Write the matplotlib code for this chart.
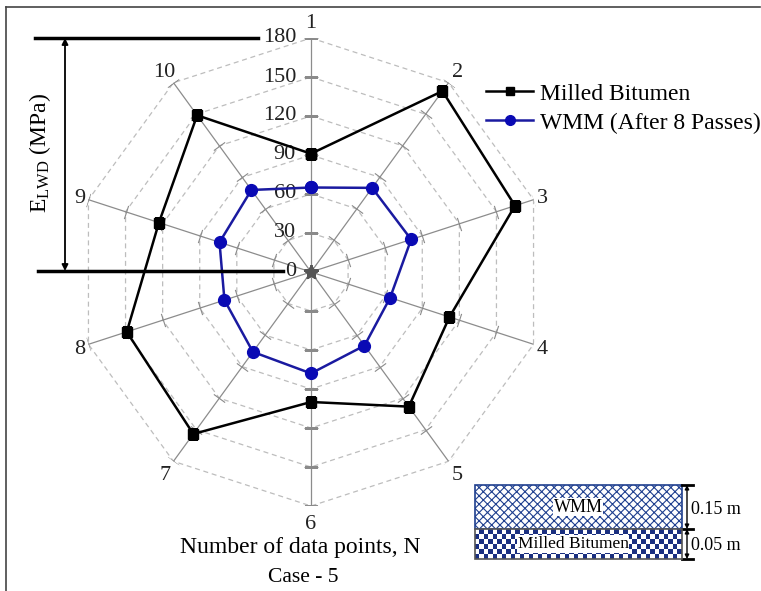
import numpy as np
import matplotlib
matplotlib.use("Agg")
import matplotlib.pyplot as plt
from matplotlib.lines import Line2D
from matplotlib.patches import Rectangle

plt.rcParams['font.family'] = ['Liberation Serif', 'DejaVu Serif']
plt.rcParams['mathtext.fontset'] = 'custom'
plt.rcParams['mathtext.rm'] = 'Liberation Serif'
plt.rcParams['hatch.linewidth'] = 0.8

# ---- data ----
points = ['1', '2', '3', '4', '5', '6', '7', '8', '9', '10']
milled_bitumen = [91, 172, 165, 112, 128, 100, 154, 149, 123, 149]
wmm_after_8 = [65, 80, 81, 64, 70, 78, 76, 70, 74, 78]
r_ticks = [0, 30, 60, 90, 120, 150, 180]
series_names = ['Milled Bitumen', 'WMM (After 8 Passes)']

W, H = 761, 591
fig = plt.figure(figsize=(W / 100, H / 100), dpi=100)

cx, cy, R = 311, 272, 234
px_per_unit = R / r_ticks[-1]
ax = fig.add_axes([(cx - R) / W, (H - cy - R) / H, 2 * R / W, 2 * R / H],
                  projection='polar')
ax.set_theta_zero_location('N')
ax.set_theta_direction(-1)
ax.set_ylim(0, r_ticks[-1])
ax.grid(False)
ax.spines['polar'].set_visible(False)
ax.set_xticks([])
ax.set_yticks([])
ax.patch.set_alpha(0)

n = len(points)
theta = np.arange(n) * 2 * np.pi / n
theta_c = np.append(theta, theta[0])

# decagon grid rings
for v in r_ticks[1:]:
    ax.plot(theta_c, [v] * (n + 1), color='#bdbdbd', lw=0.9, ls=(0, (4, 3)),
            zorder=1)
# spokes + ticks + category labels
for i, th in enumerate(theta):
    ax.plot([th, th], [0, r_ticks[-1]], color='#8c8c8c', lw=0.9, zorder=2)
    ang = 90 - np.degrees(th)
    ax.plot([th] * (len(r_ticks) - 1), r_ticks[1:], ls='none',
            marker=(2, 0, ang), ms=10, mec='#8a8a8a', mew=0.8, zorder=2)
    r_lab = (240 + 11 * abs(np.cos(th))) / px_per_unit
    ax.annotate(points[i], xy=(th, r_lab), xytext=(0, -2),
                textcoords='offset pixels', ha='center', va='center',
                fontsize=16, color='#222222', annotation_clip=False)

# radial tick labels along spoke 1
for v in r_ticks:
    ax.annotate(str(v), xy=(0, v), xytext=(-15, 0), textcoords='offset pixels',
                ha='right', va='center', fontsize=16, color='#222222',
                annotation_clip=False)

# series
ax.plot(theta_c, milled_bitumen + milled_bitumen[:1], color='black', lw=1.8,
        marker='s', ms=7.5, zorder=4)
ax.plot(theta_c, wmm_after_8 + wmm_after_8[:1], color='#1a1aa0', lw=1.8,
        marker='o', ms=8.5, mfc='#0a0ab4', mec='#0a0ab4', zorder=5)

# center star
ax.plot(theta, [0] * n, ls='none', marker='*', ms=10, color='#555555', zorder=3)

# ---- legend ----
handles = [Line2D([], [], color='black', lw=1.8, marker='s', ms=6),
           Line2D([], [], color='#1a1aa0', lw=1.8, marker='o', ms=7,
                  mfc='#0a0ab4', mec='#0a0ab4')]
fig.legend(handles, series_names, loc='upper left',
           bbox_to_anchor=(486 / W, 1 - 83 / H), frameon=False, fontsize=17,
           handlelength=2.0, handletextpad=0.3, labelspacing=0.32,
           borderaxespad=0, borderpad=0)

# ---- overlay (pixel coordinates) ----
ov = fig.add_axes([0, 0, 1, 1], facecolor='none')
ov.set_xlim(0, W)
ov.set_ylim(H, 0)
ov.axis('off')

# frame
ov.plot([6, 6], [H, 7], color='#444444', lw=1.2)
ov.plot([6, 760], [7, 7], color='#444444', lw=1.2)

# E_LWD dimension lines
ov.plot([35, 258], [38, 38], color='black', lw=2.5)
ov.plot([38, 283], [271, 271], color='black', lw=2.5)
ov.annotate('', xy=(65, 38), xytext=(65, 271),
            arrowprops=dict(arrowstyle='<|-|>', color='black', lw=1.3,
                            mutation_scale=9, shrinkA=0, shrinkB=0))
ov.text(40, 153, r'$\mathregular{E_{LWD}}$ (MPa)', rotation=90, ha='center',
        va='center', fontsize=17)

# axis titles
ov.text(300, 548, 'Number of data points, N', ha='center', va='center',
        fontsize=17)
ov.text(303, 578, 'Case - 5', ha='center', va='center', fontsize=15.5)

# layer inset
ov.add_patch(Rectangle((475, 485), 207, 44, facecolor='white',
                       edgecolor='#1f3f8f', hatch='xxxx', lw=1.2))
cb = np.indices((6, 46)).sum(axis=0) % 2
ov.imshow(cb, cmap=matplotlib.colors.ListedColormap(['white', '#1a2f80']),
          extent=(475, 682, 559, 529), interpolation='nearest', aspect='auto',
          zorder=2)
ov.add_patch(Rectangle((475, 529), 207, 30, facecolor='none',
                       edgecolor='#555555', lw=1.2, zorder=3))
ov.set_xlim(0, W)
ov.set_ylim(H, 0)
ov.text(578, 507, 'WMM', ha='center', va='center', fontsize=13,
        bbox=dict(facecolor='white', edgecolor='none', pad=0.5), zorder=4)
ov.text(573, 544, 'Milled Bitumen', ha='center', va='center', fontsize=12.5,
        bbox=dict(facecolor='white', edgecolor='none', pad=0.5), zorder=4)
for y in (485, 529, 559):
    ov.plot([682, 693], [y, y], color='black', lw=2)
for y0, y1 in ((485, 529), (529, 559)):
    ov.annotate('', xy=(687, y0), xytext=(687, y1),
                arrowprops=dict(arrowstyle='<|-|>', color='black', lw=1,
                                mutation_scale=6, shrinkA=0, shrinkB=0))
ov.text(691, 509, '0.15 m', ha='left', va='center', fontsize=13)
ov.text(691, 546, '0.05 m', ha='left', va='center', fontsize=13)

fig.savefig('out.png', dpi=100)
